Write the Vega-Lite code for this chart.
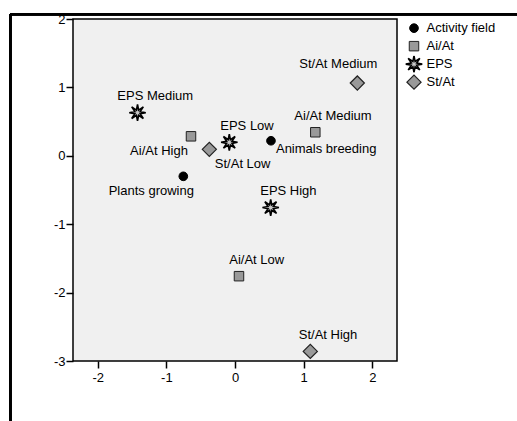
{
  "$schema": "https://vega.github.io/schema/vega-lite/v6.json",
  "autosize": {"type": "none"},
  "padding": {"left": 73, "top": 19, "right": 120, "bottom": 60},
  "width": 324,
  "height": 342,
  "background": "white",
  "config": {
    "font": "Liberation Sans",
    "view": {"fill": "#f0f0f0", "stroke": "black", "strokeWidth": 1.5},
    "axis": {
      "domain": false, "grid": false, "ticks": true, "tickSize": 7, "tickWidth": 1.5,
      "tickColor": "black", "labelFontSize": 13, "labelColor": "black",
      "labelFont": "Liberation Sans", "title": null
    },
    "legend": {
      "orient": "none", "legendX": 331.5, "legendY": 0.5, "padding": 0, "rowPadding": 0,
      "clipHeight": 17.3,
      "labelOffset": 3, "labelFontSize": 13, "labelColor": "black",
      "labelFont": "Liberation Sans"
    }
  },
  "data": {
    "values": [
      {"group": "Activity field", "label": "Plants growing", "x": -0.753, "y": -0.30, "labelPos": "belowLeft"},
      {"group": "Activity field", "label": "Animals breeding", "x": 0.524, "y": 0.22, "labelPos": "right"},
      {"group": "Ai/At", "label": "Ai/At High", "x": -0.641, "y": 0.285, "labelPos": "belowLeft"},
      {"group": "Ai/At", "label": "Ai/At Medium", "x": 1.17, "y": 0.344, "labelPos": "above"},
      {"group": "Ai/At", "label": "Ai/At Low", "x": 0.058, "y": -1.76, "labelPos": "above"},
      {"group": "EPS", "label": "EPS Medium", "x": -1.42, "y": 0.63, "labelPos": "above"},
      {"group": "EPS", "label": "EPS Low", "x": -0.083, "y": 0.197, "labelPos": "above"},
      {"group": "EPS", "label": "EPS High", "x": 0.52, "y": -0.757, "labelPos": "above"},
      {"group": "St/At", "label": "St/At Low", "x": -0.374, "y": 0.095, "labelPos": "belowRight"},
      {"group": "St/At", "label": "St/At Medium", "x": 1.782, "y": 1.064, "labelPos": "aboveLeft"},
      {"group": "St/At", "label": "St/At High", "x": 1.097, "y": -2.86, "labelPos": "above"}
    ]
  },
  "layer": [
    {
      "mark": {"type": "rule", "color": "black", "strokeWidth": 2},
      "encoding": {
        "x": {"datum": -3.273, "type": "quantitative", "scale": {"domain": [-2.36, 2.36], "nice": false, "zero": false}},
        "y": {"datum": 2.069, "type": "quantitative", "scale": {"domain": [-3, 2], "nice": false, "zero": false}},
        "y2": {"datum": -6}
      }
    },
    {
      "mark": {"type": "rule", "color": "black", "strokeWidth": 2},
      "encoding": {
        "x": {"datum": -3.273, "type": "quantitative"},
        "x2": {"datum": 6},
        "y": {"datum": 2.069, "type": "quantitative"}
      }
    },
    {
      "mark": {"type": "point", "filled": true, "opacity": 1, "strokeOpacity": 1},
      "encoding": {
        "x": {"field": "x", "type": "quantitative",
              "scale": {"domain": [-2.36, 2.36], "nice": false, "zero": false},
              "axis": {"values": [-2, -1, 0, 1, 2], "labelExpr": "'' + datum.value", "labelPadding": 3}},
        "y": {"field": "y", "type": "quantitative",
              "scale": {"domain": [-3, 2], "nice": false, "zero": false},
              "axis": {"values": [-3, -2, -1, 0, 1, 2], "labelExpr": "'' + datum.value", "labelPadding": 1}},
        "shape": {"field": "group", "type": "nominal",
                  "scale": {"domain": ["Activity field", "Ai/At", "EPS", "St/At"],
                            "range": ["circle", "square", "M1,0L0.323,0.134L0.707,0.707L0.134,0.323L0,1L-0.134,0.323L-0.707,0.707L-0.323,0.134L-1,0L-0.323,-0.134L-0.707,-0.707L-0.134,-0.323L0,-1L0.134,-0.323L0.707,-0.707L0.323,-0.134Z", "diamond"]},
                  "legend": {"title": null}},
        "fill": {"field": "group", "type": "nominal",
                 "scale": {"domain": ["Activity field", "Ai/At", "EPS", "St/At"],
                           "range": ["black", "#999999", "#c8c8c8", "#999999"]},
                 "legend": {"title": null}},
        "stroke": {"field": "group", "type": "nominal",
                 "scale": {"domain": ["Activity field", "Ai/At", "EPS", "St/At"],
                           "range": ["black", "#222222", "black", "#222222"]},
                 "legend": {"title": null}},
        "size": {"field": "group", "type": "nominal",
                 "scale": {"type": "ordinal", "domain": ["Activity field", "Ai/At", "EPS", "St/At"],
                           "range": [75, 90, 270, 200]},
                 "legend": {"title": null}},
        "strokeWidth": {"field": "group", "type": "nominal",
                 "scale": {"type": "ordinal", "domain": ["Activity field", "Ai/At", "EPS", "St/At"],
                           "range": [1, 1, 1.6, 1.2]},
                 "legend": {"title": null}}
      }
    },
    {
      "transform": [{"filter": "datum.labelPos == 'above'"}],
      "mark": {"type": "text", "align": "center", "baseline": "middle", "dx": 17.7, "dy": -16.3, "fontSize": 13, "color": "black"},
      "encoding": {
        "x": {"field": "x", "type": "quantitative"},
        "y": {"field": "y", "type": "quantitative"},
        "text": {"field": "label"}
      }
    },
    {
      "transform": [{"filter": "datum.labelPos == 'belowLeft'"}],
      "mark": {"type": "text", "align": "center", "baseline": "middle", "dx": -32, "dy": 15, "fontSize": 13, "color": "black"},
      "encoding": {
        "x": {"field": "x", "type": "quantitative"},
        "y": {"field": "y", "type": "quantitative"},
        "text": {"field": "label"}
      }
    },
    {
      "transform": [{"filter": "datum.labelPos == 'belowRight'"}],
      "mark": {"type": "text", "align": "left", "baseline": "middle", "dx": 5.5, "dy": 14.3, "fontSize": 13, "color": "black"},
      "encoding": {
        "x": {"field": "x", "type": "quantitative"},
        "y": {"field": "y", "type": "quantitative"},
        "text": {"field": "label"}
      }
    },
    {
      "transform": [{"filter": "datum.labelPos == 'right'"}],
      "mark": {"type": "text", "align": "left", "baseline": "middle", "dx": 5, "dy": 8.7, "fontSize": 13, "color": "black"},
      "encoding": {
        "x": {"field": "x", "type": "quantitative"},
        "y": {"field": "y", "type": "quantitative"},
        "text": {"field": "label"}
      }
    },
    {
      "transform": [{"filter": "datum.labelPos == 'aboveLeft'"}],
      "mark": {"type": "text", "align": "center", "baseline": "middle", "dx": -19, "dy": -19.4, "fontSize": 13, "color": "black"},
      "encoding": {
        "x": {"field": "x", "type": "quantitative"},
        "y": {"field": "y", "type": "quantitative"},
        "text": {"field": "label"}
      }
    }
  ]
}
